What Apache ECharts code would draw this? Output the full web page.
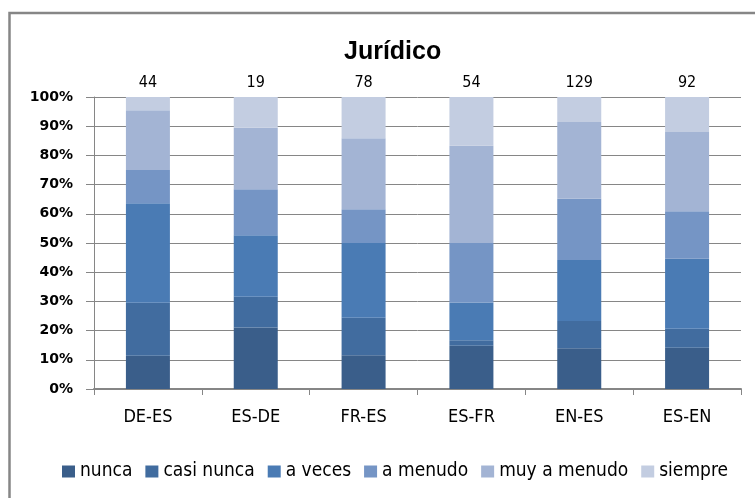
<!DOCTYPE html>
<html>
<head>
<meta charset="utf-8">
<script src="https://cdn.jsdelivr.net/npm/echarts@6/dist/echarts.min.js"></script>
<style>
html, body { margin: 0; padding: 0; background: #fff; }
#main { width: 755px; height: 498px; }
</style>
</head>
<body>
<div id="main"></div>
<script>
// pares de idiomas y respuestas (número de respuestas por categoría)
var categories = ['DE-ES', 'ES-DE', 'FR-ES', 'ES-FR', 'EN-ES', 'ES-EN'];
var nunca      = [5, 4, 9, 8, 18, 13];
var casiNunca  = [8, 2, 10, 1, 12, 6];
var aVeces     = [15, 4, 20, 7, 27, 22];
var aMenudo    = [5, 3, 9, 11, 27, 15];
var muyAMenudo = [9, 4, 19, 18, 34, 25];
var siempre    = [2, 2, 11, 9, 11, 11];
var totals     = [44, 19, 78, 54, 129, 92];
var yTicks     = [0, 10, 20, 30, 40, 50, 60, 70, 80, 90, 100];

var names = ['nunca', 'casi nunca', 'a veces', 'a menudo', 'muy a menudo', 'siempre'];
var colors = ['#3a5e8a', '#416c9f', '#4a7bb4', '#7595c5', '#a3b4d4', '#c3cde1'];
var raw = [nunca, casiNunca, aVeces, aMenudo, muyAMenudo, siempre];

var narrow = '"Liberation Sans Narrow", "DejaVu Sans Condensed", sans-serif';

var myChart = echarts.init(document.getElementById('main'));

var series = raw.map(function (arr, i) {
    var s = {
        name: names[i],
        type: 'bar',
        stack: 'total',
        barWidth: 44,
        itemStyle: { color: colors[i] },
        data: arr.map(function (v, j) { return v / totals[j] * 100; })
    };
    if (i === raw.length - 1) {
        s.label = {
            show: true,
            position: 'top',
            distance: 6,
            color: '#000',
            fontFamily: '"DejaVu Sans Condensed", sans-serif',
            fontSize: 16,
            formatter: function (p) { return totals[p.dataIndex]; }
        };
    }
    return s;
});

var option = {
    animation: false,
    title: {
        text: 'Jurídico',
        left: 339,
        top: 35,
        textStyle: { fontFamily: '"Liberation Sans", Arial, sans-serif', fontSize: 25, fontWeight: 'bold', color: '#000' }
    },
    legend: {
        top: 457,
        left: 57,
        itemWidth: 13,
        itemHeight: 12,
        itemGap: 13,
        icon: 'rect',
        textStyle: { fontFamily: narrow, fontSize: 19, color: '#000' },
        data: names
    },
    grid: { left: 94, right: 14, top: 97, bottom: 109 },
    xAxis: {
        type: 'category',
        data: categories,
        axisLine: { lineStyle: { color: '#868686', width: 2 } },
        axisTick: { show: true, length: 6, lineStyle: { color: '#868686' } },
        axisLabel: { color: '#000', fontFamily: narrow, fontSize: 18, margin: 19 }
    },
    yAxis: {
        type: 'value',
        min: 0,
        max: 100,
        interval: 10,
        axisLine: { show: true, lineStyle: { color: '#868686' } },
        axisTick: { show: true, length: 8, lineStyle: { color: '#868686' } },
        splitLine: { lineStyle: { color: '#868686' } },
        axisLabel: {
            color: '#000',
            fontFamily: '"DejaVu Sans", sans-serif',
            fontWeight: 'bold',
            fontSize: 14,
            margin: 21,
            formatter: function (v) { return yTicks.indexOf(v) >= 0 ? v + '%' : ''; }
        }
    },
    graphic: [{
        type: 'rect',
        shape: { x: 9.5, y: 13, width: 760, height: 500 },
        style: { fill: 'none', stroke: '#868686', lineWidth: 2.5 }
    }],
    series: series
};

myChart.setOption(option);
</script>
</body>
</html>
